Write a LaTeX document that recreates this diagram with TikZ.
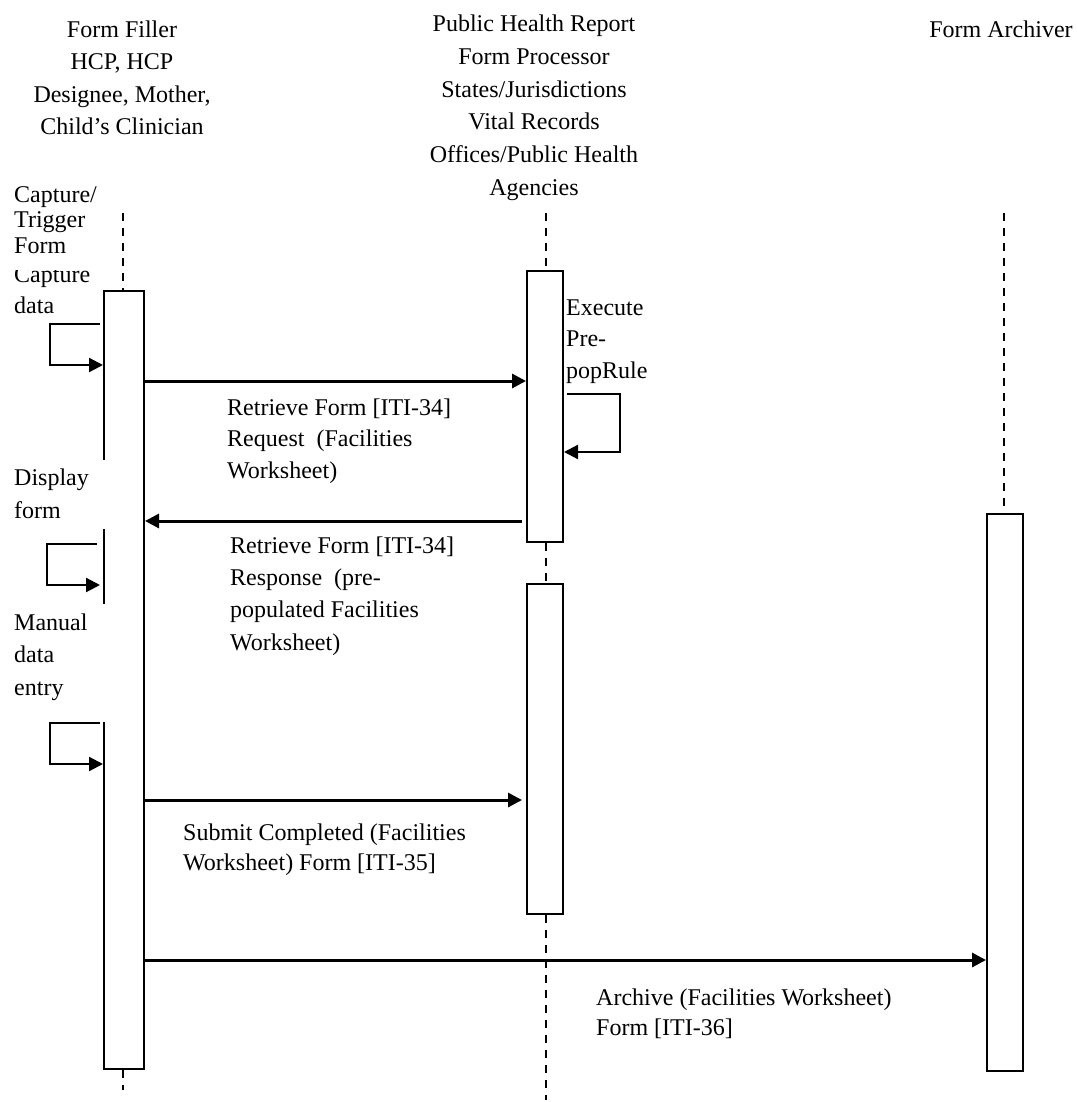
\documentclass[tikz,border=0pt]{standalone}
\usepackage{fontspec}
\setmainfont{Liberation Serif}
\usetikzlibrary{arrows.meta}
\begin{document}
\begin{tikzpicture}[x=1pt,y=-1pt,
  lbl/.style={anchor=base west, align=left, inner sep=0pt, font=\fontsize{24}{32}\selectfont},
  hdr/.style={anchor=base, align=center, inner sep=0pt, font=\fontsize{24}{32.6}\selectfont},
  actbox/.style={draw, line width=2pt, fill=white, inner sep=0pt, anchor=north west},
  lifeline/.style={line width=2pt, dash pattern=on 8pt off 7pt},
  msg/.style={line width=3pt, -{Triangle[length=14pt,width=14pt]}},
  selfmsg/.style={line width=2.2pt, -{Triangle[length=14pt,width=14pt]}},
  cover/.style={fill=white, draw=none}
]
\useasboundingbox (0,0) rectangle (1076,1102);

% headers (anchored at the baseline of the last line)
\node[hdr] (ffhdr) at (122,135) {Form Filler\\HCP, HCP\\Designee, Mother,\\Child’s Clinician};
\node[hdr] (phhdr) at (534,195) {Public Health Report\\Form Processor\\States/Jurisdictions\\Vital Records\\Offices/Public Health\\Agencies};
\node[hdr] (fahdr) at (1001,38) {Form Archiver};

% lifeline ends
\coordinate (fftop) at (123,213);
\coordinate (ffend) at (123,1090);
\coordinate (phtop) at (546,213);
\coordinate (phend) at (546,1100);
\coordinate (fatop) at (1004,213);

% activation boxes
\node[actbox, minimum width=40pt, minimum height=778pt] (ffbox) at (103,290) {};
\node[actbox, minimum width=36pt, minimum height=271pt] (ph1) at (526,270) {};
\node[actbox, minimum width=36pt, minimum height=330pt] (ph2) at (526,583) {};
\node[actbox, minimum width=36pt, minimum height=557pt] (fabox) at (986,513) {};

% lifelines
\draw[lifeline] (fftop) -- (fftop |- ffbox.north);
\draw[lifeline] (fftop |- ffbox.south) -- (ffend);
\draw[lifeline] (phtop) -- (phtop |- ph1.north);
\draw[lifeline] (phtop |- ph1.south) -- (phtop |- ph2.north);
\draw[lifeline] (phtop |- ph2.south) -- (phend);
\draw[lifeline] (fatop) -- (fatop |- fabox.north);

% white areas of the left labels hiding the box edge
\path[cover] (10,460) rectangle (104.5,529);
\path[cover] (10,604) rectangle (104.5,722);

% left self messages
\node[lbl, font=\fontsize{24}{31}\selectfont] (capdata) at (14,313) {Capture\\data};
\path[cover] (12,257) rectangle (100,270);
\node[lbl, font=\fontsize{24}{25.5}\selectfont] (captrig) at (14,253) {Capture/\\Trigger\\Form};
\coordinate (c1a) at (0,324);
\coordinate (c1b) at (0,365);
\draw[selfmsg] ([xshift=-3pt]ffbox.west |- c1a) -- ++(-50,0) |- (ffbox.west |- c1b);

\node[lbl, font=\fontsize{24}{33}\selectfont] (dispform) at (14,518) {Display\\form};
\coordinate (c2a) at (0,544);
\coordinate (c2b) at (0,585);
\draw[selfmsg] ([xshift=-6pt]ffbox.west |- c2a) -- ++(-50,0) |- ([xshift=-3pt]ffbox.west |- c2b);

\node[lbl, font=\fontsize{24}{32.5}\selectfont] (manual) at (14,695) {Manual\\data\\entry};
\coordinate (c3a) at (0,723);
\coordinate (c3b) at (0,764);
\draw[selfmsg] ([xshift=-3pt]ffbox.west |- c3a) -- ++(-50,0) |- (ffbox.west |- c3b);

% processor self message
\node[lbl, font=\fontsize{24}{31.5}\selectfont] (exec) at (566,378) {Execute\\Pre-\\popRule};
\coordinate (c4a) at (0,394);
\coordinate (c4b) at (0,452);
\draw[selfmsg] ([xshift=3pt]ph1.east |- c4a) -- (620,394) |- (ph1.east |- c4b);

% messages
\coordinate (reqy) at (0,381);
\draw[msg] (ffbox.east |- reqy) -- (ph1.west |- reqy);
\node[lbl, font=\fontsize{24}{31.5}\selectfont] (reqlbl) at (227,478) {Retrieve Form [ITI-34]\\Request\ \ (Facilities\\Worksheet)};

\coordinate (respy) at (0,521);
\draw[msg] ([xshift=-4pt]ph1.west |- respy) -- (ffbox.east |- respy);
\node[lbl, font=\fontsize{24}{32.3}\selectfont] (resplbl) at (230,650) {Retrieve Form [ITI-34]\\Response\ \ (pre-\\populated Facilities\\Worksheet)};

\coordinate (suby) at (0,800);
\draw[msg] (ffbox.east |- suby) -- ([xshift=-4pt]ph2.west |- suby);
\node[lbl, font=\fontsize{24}{30}\selectfont] (sublbl) at (183,870) {Submit Completed (Facilities\\Worksheet) Form [ITI-35]};

\coordinate (arcy) at (0,960);
\draw[msg] (ffbox.east |- arcy) -- (fabox.west |- arcy);
\node[lbl, font=\fontsize{24}{30}\selectfont] (arclbl) at (596,1035) {Archive (Facilities Worksheet)\\Form [ITI-36]};
\end{tikzpicture}
\end{document}
